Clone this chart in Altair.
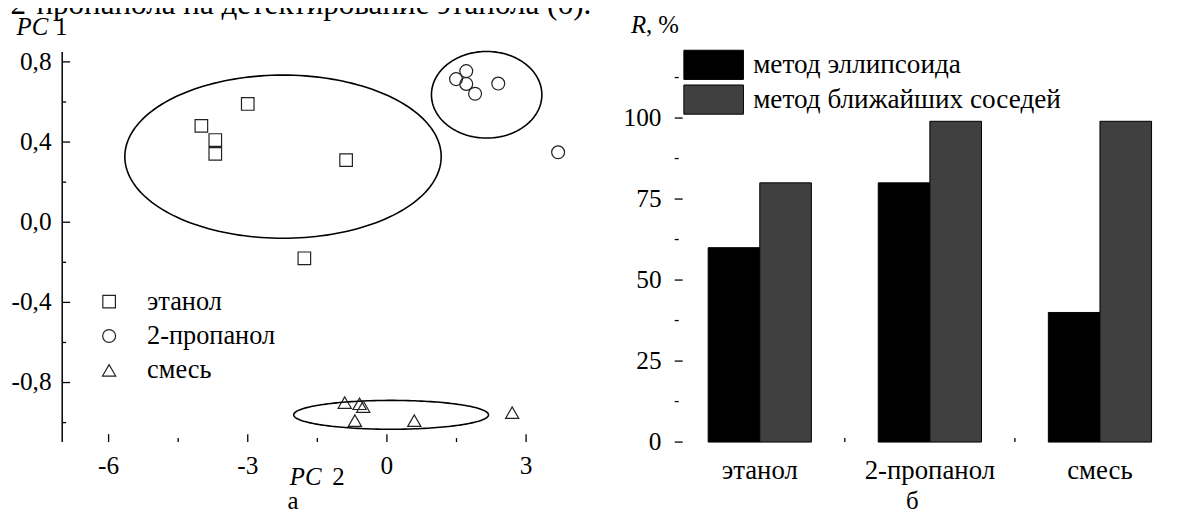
import altair as alt
import pandas as pd
import numpy as np

FONT = "Liberation Serif"

# ---------------- left panel (PCA scores) ----------------
groups = ["этанол", "2-пропанол", "смесь"]
eth_x = [-4.00, -3.70, -3.70, -3.00, -0.88, -1.78]
eth_y = [0.481, 0.410, 0.341, 0.590, 0.310, -0.180]
prop_x = [1.49, 1.71, 1.71, 1.90, 2.40, 3.69]
prop_y = [0.714, 0.754, 0.690, 0.641, 0.692, 0.349]
mix_x = [-0.91, -0.59, -0.51, -0.69, 0.59, 2.70]
mix_y = [-0.900, -0.906, -0.920, -0.990, -0.990, -0.950]

ell_cx = [-2.24, 2.15, 0.09]
ell_cy = [0.327, 0.636, -0.961]
ell_rx = [3.41, 1.19, 2.10]
ell_ry = [0.407, 0.216, 0.072]

x_major = [-6, -3, 0, 3]
x_labels = ["-6", "-3", "0", "3"]
x_minor = [-4.5, -1.5, 1.5]
y_major = [-0.8, -0.4, 0.0, 0.4, 0.8]
y_labels = ["-0,8", "-0,4", "0,0", "0,4", "0,8"]
y_minor = [-1.0, -0.6, -0.2, 0.2, 0.6]
x_dom = [-7, 4]
y_dom = [-1.097, 0.924]
y_axis_top = 0.849

caption = "2-пропанола на детектирование этанола (б)."

# ---------------- right panel (bars) ----------------
categories = ["этанол", "2-пропанол", "смесь"]
methods = ["метод эллипсоида", "метод ближайших соседей"]
ellipsoid_vals = [60, 80, 40]
knn_vals = [80, 99, 99]
r_major = [0, 25, 50, 75, 100]
r_labels = ["0", "25", "50", "75", "100"]
r_minor = [12.5, 37.5, 62.5, 87.5, 112.5]
r_dom = [0, 125]

W1, W2, H = 514, 514, 408
INK = "#000000"
TICKFS = 25.5

# ---------- tables ----------
pts = pd.DataFrame({
    "x": eth_x + prop_x + mix_x,
    "y": eth_y + prop_y + mix_y,
    "g": [groups[0]] * len(eth_x) + [groups[1]] * len(prop_x) + [groups[2]] * len(mix_x),
})

rows = []
t = np.linspace(0, 2 * np.pi, 181)
for i in range(len(ell_cx)):
    for k, tt in enumerate(t):
        rows.append({"e": i, "k": k,
                     "x": ell_cx[i] + ell_rx[i] * np.cos(tt),
                     "y": ell_cy[i] + ell_ry[i] * np.sin(tt)})
ell = pd.DataFrame(rows)

xs = alt.Scale(domain=x_dom, nice=False, zero=False)
ys = alt.Scale(domain=y_dom, nice=False, zero=False)

one = alt.Data(values=[{}])


def txt(text, x, y, size=25, italic=False, align="left"):
    return alt.Chart(one).mark_text(
        text=text, font=FONT, fontSize=size, fontStyle="italic" if italic else "normal",
        align=align, baseline="alphabetic", color=INK
    ).encode(x=alt.value(x), y=alt.value(y))


def xticks(vals, scale, length):
    return alt.Chart(pd.DataFrame({"v": vals})).mark_rule(color=INK, strokeWidth=1.3).encode(
        x=alt.X("v:Q", scale=scale, axis=None), y=alt.value(H), y2=alt.value(H - length))


def yticks(vals, scale, length):
    return alt.Chart(pd.DataFrame({"v": vals})).mark_rule(color=INK, strokeWidth=1.3).encode(
        y=alt.Y("v:Q", scale=scale, axis=None), x=alt.value(0), x2=alt.value(length))


def xlabels(vals, labs, scale, dy):
    return alt.Chart(pd.DataFrame({"v": vals, "lab": labs})).mark_text(
        font=FONT, fontSize=TICKFS, color=INK, align="center", baseline="alphabetic"
    ).encode(x=alt.X("v:Q", scale=scale, axis=None), y=alt.value(H + dy), text="lab:N")


def ylabels(vals, labs, scale, dx):
    return alt.Chart(pd.DataFrame({"v": vals, "lab": labs})).mark_text(
        font=FONT, fontSize=TICKFS, color=INK, align="right", baseline="middle"
    ).encode(y=alt.Y("v:Q", scale=scale, axis=None), x=alt.value(-dx), text="lab:N")


def line_axis(domain_on):
    return alt.Axis(labels=False, ticks=False, grid=False, domain=domain_on, domainColor=INK,
                    domainWidth=1.5, title=None)


ellipses = alt.Chart(ell).mark_line(color=INK, strokeWidth=1.6).encode(
    x=alt.X("x:Q", scale=xs, axis=line_axis(True)),
    y=alt.Y("y:Q", scale=ys, axis=line_axis(False)),
    detail="e:N", order="k:Q",
)

leg_left = alt.Legend(title=None, orient="none", legendX=34, legendY=253.3, padding=0,
                      labelFont=FONT, labelFontSize=26.5, labelColor=INK, labelOffset=25,
                      rowPadding=7.6, labelLimit=400,
                      symbolStrokeColor="#222222", symbolStrokeWidth=1.2)

points = alt.Chart(pts).mark_point(filled=False, strokeWidth=1.2, opacity=1, color="#222222").encode(
    x=alt.X("x:Q", scale=xs, axis=None),
    y=alt.Y("y:Q", scale=ys, axis=None),
    shape=alt.Shape("g:N", scale=alt.Scale(domain=groups, range=["square", "circle", "triangle-up"]),
                    legend=leg_left),
    size=alt.Size("g:N", scale=alt.Scale(domain=groups, range=[160, 177, 280]), legend=leg_left),
)

yline = alt.Chart(one).mark_rule(color=INK, strokeWidth=1.5).encode(
    x=alt.value(0), y=alt.datum(y_dom[0], scale=ys), y2=alt.datum(y_axis_top))

left = alt.layer(
    ellipses, points, yline,
    xticks(x_major, xs, 8), xticks(x_minor, xs, 4),
    yticks(y_major, ys, 8), yticks(y_minor, ys, 4),
    xlabels(x_major, x_labels, xs, 32), ylabels(y_major, y_labels, ys, 10.7),
    txt(caption, 533, -23, size=31.3, align="right"),
    txt("PC", -46, -2, italic=True), txt("1", -7.3, -2),
    txt("PC", 229.3, 451.7, italic=True), txt("2", 272, 451.7),
    txt("а", 232.5, 475, align="center"),
).properties(width=W1, height=H)

# ---------- right ----------
bars = pd.DataFrame({
    "cat": categories * 2,
    "method": [methods[0]] * 3 + [methods[1]] * 3,
    "value": ellipsoid_vals + knn_vals,
})
cs = alt.Scale(domain=categories, paddingInner=0, paddingOuter=0)
rs = alt.Scale(domain=r_dom, nice=False, zero=True)

# legends of a concatenated chart live at the top level (origin = left plot's corner)
leg_right = alt.Legend(title=None, orient="none", legendX=640.7, legendY=12.5, padding=0,
                       labelFont=FONT, labelFontSize=27.4, labelColor=INK, labelOffset=24.3,
                       rowPadding=0, labelLimit=500,
                       symbolType="M-2,-0.98L2,-0.98L2,0.98L-2,0.98Z",
                       symbolSize=900, symbolStrokeColor=INK, symbolStrokeWidth=1,
                       symbolOpacity=1)

barchart = alt.Chart(bars).mark_bar(stroke=INK, strokeWidth=1).encode(
    x=alt.X("cat:N", scale=cs, sort=categories, axis=line_axis(True)),
    xOffset=alt.XOffset("method:N", sort=methods,
                        scale=alt.Scale(domain=methods, paddingInner=0, paddingOuter=0.648)),
    y=alt.Y("value:Q", scale=rs, axis=line_axis(True)),
    color=alt.Color("method:N", sort=methods,
                    scale=alt.Scale(domain=methods, range=["#000000", "#404040"]), legend=leg_right),
)

sep = alt.Chart(pd.DataFrame({"c": categories[1:]})).mark_rule(color=INK, strokeWidth=1.3).encode(
    x=alt.X("c:N", scale=cs, bandPosition=0, axis=None), y=alt.value(H), y2=alt.value(H - 4))

catlabels = alt.Chart(pd.DataFrame({"c": categories})).mark_text(
    font=FONT, fontSize=27, color=INK, align="center", baseline="alphabetic"
).encode(x=alt.X("c:N", scale=cs, axis=None), y=alt.value(H + 37.4), text="c:N")

right = alt.layer(
    barchart, sep,
    yticks(r_major, rs, 8), yticks(r_minor, rs, 4),
    ylabels(r_major, r_labels, rs, 13.3), catlabels,
    txt("R", -44, -4, italic=True), txt(", %", -29, -4),
    txt("б", 239.2, 475, align="center"),
).properties(width=W2, height=H)

chart = alt.hconcat(left, right, spacing=32).properties(
    padding={"left": 1.6, "top": -20.6, "right": 0, "bottom": 0}
).configure(font=FONT).configure_view(stroke=None)

chart.save("out.html", embed_options={"renderer": "svg", "actions": False})
